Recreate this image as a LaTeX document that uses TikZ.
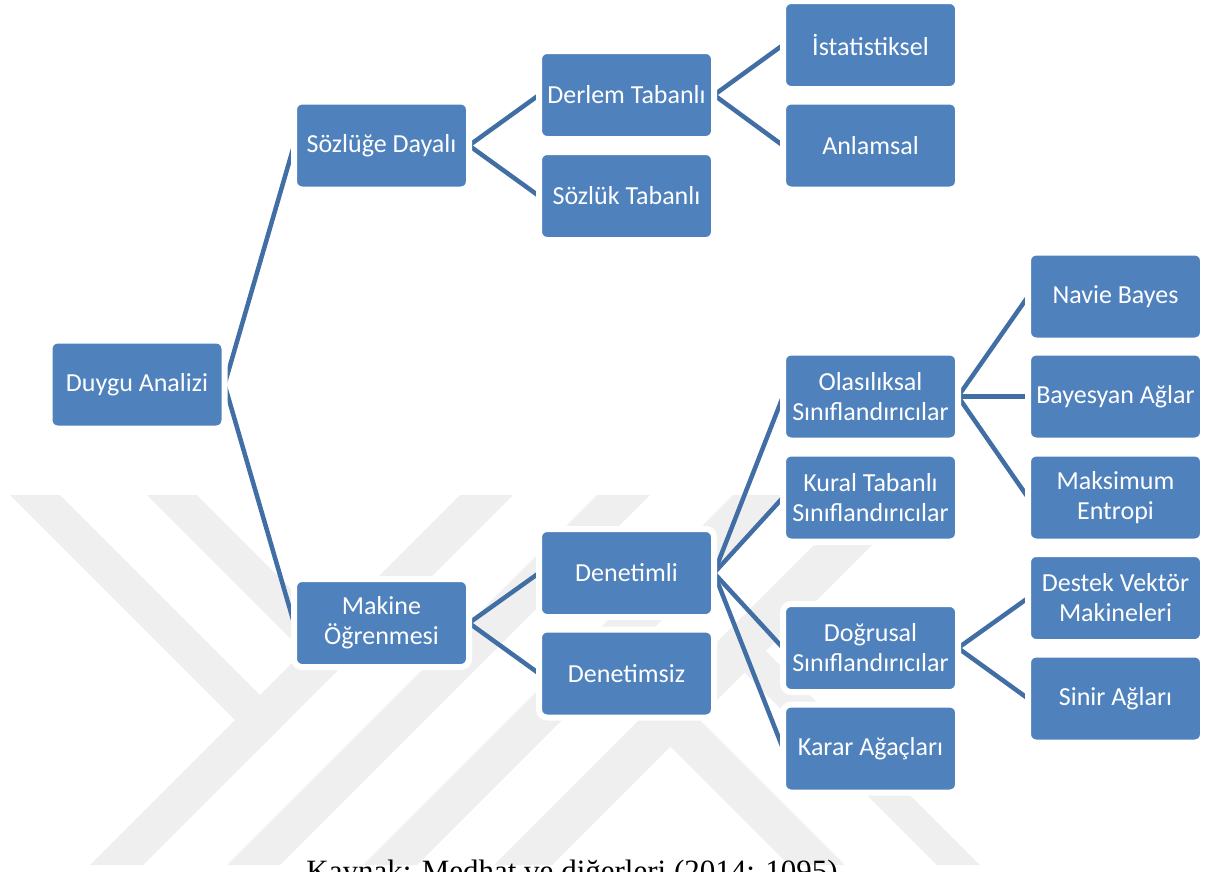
\documentclass[tikz,border=0pt]{standalone}
\usepackage{fontspec}
\setmainfont{Carlito}
\newfontfamily\capfont{Liberation Serif}
\usetikzlibrary{backgrounds}
\definecolor{boxblue}{RGB}{79,129,189}
\definecolor{lineblue}{RGB}{64,110,165}
\definecolor{wmgray}{RGB}{239,239,239}
\begin{document}
\begin{tikzpicture}[x=1pt,y=-1pt,
  box/.style={rectangle, rounded corners=8pt, fill=boxblue, draw=white, line width=6pt,
    minimum width=175pt, minimum height=88pt, inner sep=0pt, outer sep=0pt,
    text=white, align=center, font=\fontsize{26}{30}\selectfont},
  conn/.style={draw=lineblue, line width=4.5pt},
  wm/.style={fill=wmgray}]
\useasboundingbox (0,0) rectangle (1214,871);

% boxes
\node[box] (duygu) at (137,384.5) {Duygu Analizi};
\node[box] (sozluge) at (381.5,145.5) {Sözlüğe Dayalı};
\node[box] (makine) at (381.5,623) {Makine\\Öğrenmesi};
\node[box] (derlem) at (626.5,95) {Derlem Tabanlı};
\node[box] (sozluk) at (626.5,196) {Sözlük Tabanlı};
\node[box] (istat) at (870.5,45) {İstatistiksel};
\node[box] (anlamsal) at (870.5,145.5) {Anlamsal};
\node[box] (denetimli) at (626.5,573) {Denetimli};
\node[box] (denetimsiz) at (626.5,673.5) {Denetimsiz};
\node[box] (olasilik) at (870.5,396.5) {Olasılıksal\\Sınıflandırıcılar};
\node[box] (kural) at (870.5,497.5) {Kural Tabanlı\\Sınıflandırıcılar};
\node[box] (dogrusal) at (870.5,648) {Doğrusal\\Sınıflandırıcılar};
\node[box] (karar) at (870.5,748.5) {Karar Ağaçları};
\node[box] (navie) at (1115.5,296.5) {Navie Bayes};
\node[box] (bayesyan) at (1115.5,396.5) {Bayesyan Ağlar};
\node[box] (maksimum) at (1115.5,497.5) {Maksimum\\Entropi};
\node[box] (destek) at (1115.5,598) {Destek Vektör\\Makineleri};
\node[box] (sinir) at (1115.5,698.5) {Sinir Ağları};

\begin{scope}[on background layer]
  % watermark
  \fill[wm] (10,495)--(60,495)--(286.5,721.5)--(261.5,746.5)--cycle;
  \fill[wm] (147,495)--(197,495)--(355,653)--(330,678)--cycle;
  \fill[wm] (460,495)--(513,495)--(143,865)--(90,865)--cycle;
  \fill[wm] (597,495)--(650,495)--(280,865)--(227,865)--cycle;
  \fill[wm] (733,495)--(787,495)--(417,865)--(363,865)--cycle;
  \fill[wm] (814,545)--(872,545)--(552,865)--(494,865)--cycle;
  \fill[wm] (715.5,643.5)--(737,622)--(980,865)--(937,865)--cycle;
  \fill[wm] (641.5,717.5)--(669.5,689.5)--(845,865)--(789,865)--cycle;
  % connectors
  \draw[conn] (duygu.east) -- (sozluge.west);
  \draw[conn] (duygu.east) -- (makine.west);
  \draw[conn] (sozluge.east) -- (derlem.west);
  \draw[conn] (sozluge.east) -- (sozluk.west);
  \draw[conn] (derlem.east) -- (istat.west);
  \draw[conn] (derlem.east) -- (anlamsal.west);
  \draw[conn] (makine.east) -- (denetimli.west);
  \draw[conn] (makine.east) -- (denetimsiz.west);
  \draw[conn] (denetimli.east) -- (olasilik.west);
  \draw[conn] (denetimli.east) -- (kural.west);
  \draw[conn] (denetimli.east) -- (dogrusal.west);
  \draw[conn] (denetimli.east) -- (karar.west);
  \draw[conn] (olasilik.east) -- (navie.west);
  \draw[conn] (olasilik.east) -- (bayesyan.west);
  \draw[conn] (olasilik.east) -- (maksimum.west);
  \draw[conn] (dogrusal.east) -- (destek.west);
  \draw[conn] (dogrusal.east) -- (sinir.west);
\end{scope}

% caption (cut off at the bottom edge)
\begin{scope}
  \clip (0,0) rectangle (1214,871);
  \node[anchor=base, inner sep=0pt, font=\capfont\fontsize{31}{36}\selectfont] (cap) at (572,881) {Kaynak: Medhat ve diğerleri (2014: 1095)};
\end{scope}
\end{tikzpicture}
\end{document}
